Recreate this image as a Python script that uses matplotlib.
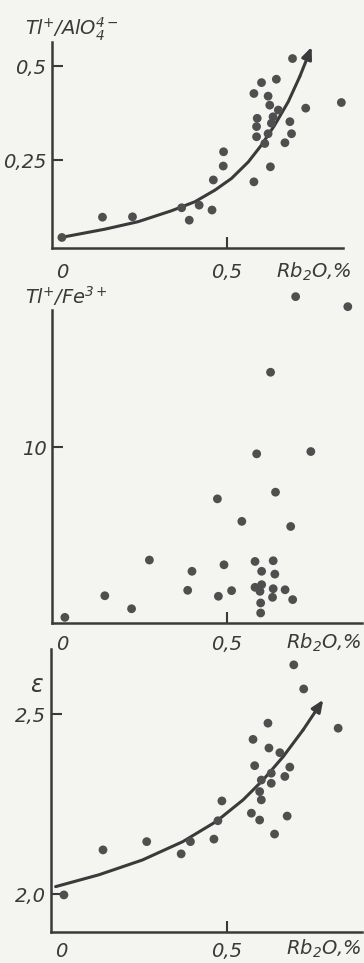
import matplotlib.pyplot as plt

plt.rcParams['font.family'] = 'DejaVu Sans'
plt.rcParams['font.style'] = 'italic'
plt.rcParams['mathtext.fontset'] = 'dejavusans'
plt.rcParams['mathtext.default'] = 'it'

# Tl+/AlO4 ratio vs Rb2O
rb_al = [0.0, 0.123, 0.214, 0.363, 0.386, 0.416, 0.455, 0.459, 0.489, 0.49,
         0.582, 0.632, 0.582, 0.605, 0.65, 0.625, 0.63, 0.656, 0.592, 0.59,
         0.59, 0.615, 0.625, 0.635, 0.64, 0.691, 0.696, 0.676, 0.739, 0.847, 0.699]
tl_al = [0.044, 0.098, 0.099, 0.123, 0.09, 0.13, 0.117, 0.197, 0.234, 0.272,
         0.192, 0.232, 0.427, 0.456, 0.465, 0.42, 0.396, 0.383, 0.361, 0.339,
         0.312, 0.294, 0.32, 0.348, 0.365, 0.352, 0.32, 0.296, 0.388, 0.403, 0.52]
trend_al_x = [0.009, 0.13, 0.231, 0.332, 0.403, 0.464, 0.514, 0.565, 0.605, 0.645,
              0.686, 0.721, 0.757]
trend_al_y = [0.046, 0.066, 0.086, 0.115, 0.139, 0.17, 0.201, 0.245, 0.29, 0.343,
              0.405, 0.472, 0.551]

# Tl+/Fe3+ ratio vs Rb2O
rb_fe = [0.009, 0.13, 0.211, 0.265, 0.381, 0.394, 0.474, 0.491, 0.471, 0.514,
         0.545, 0.59, 0.632, 0.647, 0.693, 0.708, 0.754, 0.866, 0.585, 0.64,
         0.605, 0.645, 0.585, 0.605, 0.6, 0.64, 0.638, 0.676, 0.699, 0.602, 0.602]
tl_fe = [0.32, 1.55, 0.81, 3.58, 1.86, 2.94, 1.52, 3.31, 7.06, 1.84,
         5.78, 9.62, 14.26, 7.44, 5.49, 18.56, 9.75, 17.99, 3.5, 3.54,
         2.94, 2.78, 2.03, 2.18, 1.8, 1.95, 1.46, 1.89, 1.33, 1.14, 0.57]

# epsilon vs Rb2O
rb_eps = [0.009, 0.127, 0.259, 0.363, 0.391, 0.462, 0.474, 0.486, 0.575, 0.6,
          0.58, 0.585, 0.625, 0.628, 0.661, 0.691, 0.676, 0.635, 0.635, 0.605,
          0.6, 0.605, 0.645, 0.683, 0.703, 0.733, 0.837]
eps = [1.998, 2.123, 2.146, 2.112, 2.146, 2.153, 2.204, 2.259, 2.225, 2.206,
       2.43, 2.357, 2.475, 2.406, 2.393, 2.353, 2.327, 2.336, 2.308, 2.317,
       2.285, 2.262, 2.167, 2.217, 2.637, 2.57, 2.461]
trend_eps_x = [-0.016, 0.115, 0.246, 0.368, 0.469, 0.55, 0.61, 0.671, 0.731, 0.792]
trend_eps_y = [2.021, 2.054, 2.095, 2.146, 2.202, 2.262, 2.317, 2.382, 2.456, 2.54]

W, H = 364, 963
BG = '#f4f4f1'
INK = '#3a3a3a'
DOT = '#4f4f4f'
FS = 14

fig = plt.figure(figsize=(W / 100, H / 100), dpi=100, facecolor=BG)


def make_axes(left, top, right, bottom, xpad, label_dx, label_dy):
    ax = fig.add_axes([left / W, 1 - bottom / H, (right - left) / W, (bottom - top) / H])
    ax.set_facecolor('none')
    for s in ('top', 'right'):
        ax.spines[s].set_visible(False)
    for s in ('left', 'bottom'):
        ax.spines[s].set_color(INK)
        ax.spines[s].set_linewidth(1.8)
    ax.tick_params(direction='in', length=8, width=1.5, color=INK, labelsize=FS,
                   labelcolor=INK)
    ax.tick_params(axis='x', pad=xpad)
    ax.tick_params(axis='y', pad=4)
    ax.set_xticks([0, 0.5], ['0', '0,5'])
    ax.xaxis.get_major_ticks()[0].tick1line.set_visible(False)
    ax.annotate('Rb$_2$O,%', xy=(1.0, 0), xycoords='axes fraction',
                xytext=(label_dx, label_dy), textcoords='offset points',
                ha='right', va='baseline', fontsize=FS, color=INK)
    return ax


def trend(ax, xs, ys):
    ax.plot(xs[:-1], ys[:-1], color=INK, lw=2.2, solid_capstyle='round')
    ax.annotate('', xy=(xs[-1], ys[-1]), xytext=(xs[-2], ys[-2]),
                arrowprops=dict(arrowstyle='-|>,head_length=0.7,head_width=0.3',
                                color=INK, lw=2.2, shrinkA=0, shrinkB=0))


# panel 1
ax1 = make_axes(52, 42, 343, 248, 11, 6.5, -21.5)
ax1.set_xlim(-0.03, 0.852)
ax1.set_ylim(0.016, 0.564)
ax1.set_yticks([0.25, 0.5], ['0,25', '0,5'])
trend(ax1, trend_al_x, trend_al_y)
ax1.scatter(rb_al, tl_al, s=40, color=DOT, edgecolors='none', clip_on=False, zorder=3)
fig.text(25 / W, 1 - 35 / H, 'Tl$^{+}$/AlO$_{4}^{4-}$', fontsize=FS, color=INK,
         va='baseline')

# panel 2
ax2 = make_axes(52, 310, 362, 623, 9, 0, -18.5)
ax2.set_xlim(-0.03, 0.909)
ax2.set_ylim(0, 17.8)
ax2.set_yticks([10], ['10'])
ax2.scatter(rb_fe, tl_fe, s=40, color=DOT, edgecolors='none', clip_on=False, zorder=3)
fig.text(25 / W, 1 - 304 / H, 'Tl$^{+}$/Fe$^{3+}$', fontsize=FS, color=INK,
         va='baseline')

# panel 3
ax3 = make_axes(51, 649, 362, 932, 7, 0, -16)
ax3.set_xlim(-0.03, 0.909)
ax3.set_ylim(1.895, 2.681)
ax3.set_yticks([2.0, 2.5], ['2,0', '2,5'])
trend(ax3, trend_eps_x, trend_eps_y)
ax3.scatter(rb_eps, eps, s=40, color=DOT, edgecolors='none', clip_on=False, zorder=3)
fig.text(36 / W, 1 - 685 / H, 'ε', fontsize=17, color=INK, ha='center', va='center')

fig.savefig('out.png', dpi=100, facecolor=BG)
